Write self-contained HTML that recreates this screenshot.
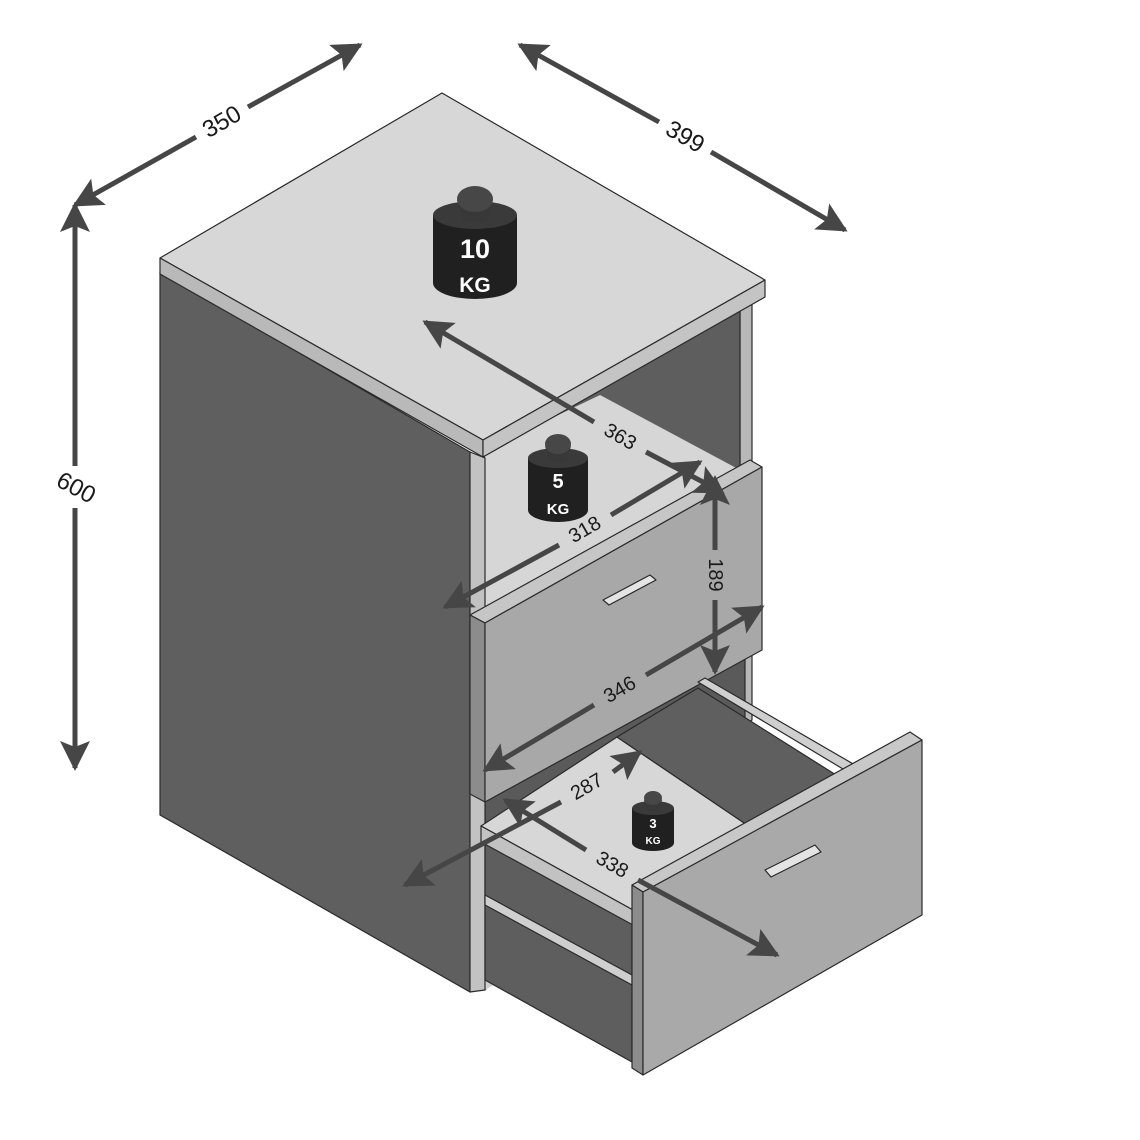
<!DOCTYPE html>
<html><head><style>html,body{margin:0;padding:0;background:#fff}svg{display:block}</style></head>
<body>
<svg width="1140" height="1140" viewBox="0 0 1140 1140" xmlns="http://www.w3.org/2000/svg">
<defs>
<marker id="ah" viewBox="0 0 10 10" refX="9" refY="5" markerWidth="6" markerHeight="6" orient="auto-start-reverse" markerUnits="strokeWidth">
<path d="M0,0 L10,5 L0,10 L2,5 Z" fill="#464646"/></marker>
</defs>
<rect width="1140" height="1140" fill="#fff"/>
<g stroke="#2a2a2a" stroke-width="1.2" stroke-linejoin="round">
<polygon points="740,305 752,298 752,720 740,728" fill="#b8b8b8"/>
<polygon points="485,455 740,308 740,470 485,615" fill="#5e5e5e"/>
<polygon points="485,450 600,395 740,470 485,615" fill="#d6d6d6" stroke="none"/>
<polygon points="485,790 745,650 745,720 485,990" fill="#5a5a5a"/>
<polygon points="485,950 520,970 485,990" fill="#d0d0d0" stroke="none"/>
<polygon points="160,272 470,452 470,992 160,815" fill="#5f5f5f"/>
<polygon points="470,452 485,458 485,990 470,992" fill="#c2c2c2"/>
<polygon points="160,258 442,93 765,280 483,440" fill="#d7d7d7"/>
<polygon points="160,258 483,440 483,457 160,274" fill="#b9b9b9"/>
<polygon points="483,440 765,280 765,297 483,457" fill="#c4c4c4"/>
<polygon points="470,615 750,460 762,467 485,623" fill="#c6c6c6"/>
<polygon points="470,615 485,623 485,802 470,794" fill="#8c8c8c"/>
<polygon points="485,623 762,467 762,650 485,802" fill="#a8a8a8"/>
<polygon points="603,600 650,575 656,580 609,605" fill="#e4e4e4"/>
<polygon points="485,835 632,918 632,1062 485,980" fill="#5e5e5e"/>
<polygon points="485,895 632,975 632,985 485,905" fill="#cfcfcf"/>
<polygon points="481,826 617,737 756,831 633,910" fill="#d7d7d7"/>
<polygon points="617,737 698,688 844,780 756,831" fill="#5f5f5f"/>
<polygon points="698,682 705,678 855,765 848,772" fill="#cfcfcf"/>
<polygon points="481,826 633,910 633,925 481,842" fill="#c2c2c2"/>
<polygon points="632,885 910,732 922,740 643,892" fill="#c8c8c8"/>
<polygon points="632,885 643,892 643,1075 632,1068" fill="#8c8c8c"/>
<polygon points="643,892 922,740 922,915 643,1075" fill="#a9a9a9"/>
<polygon points="765,870 815,845 821,852 771,877" fill="#e4e4e4"/>
</g>
<g fill="#202020">
<ellipse cx="475" cy="283" rx="42" ry="16"/><rect x="433" y="215" width="84" height="68"/><ellipse cx="475" cy="215" rx="42" ry="14" fill="#3a3a3a"/>
<path d="M457,200 L493,200 L486,222 L464,222 Z" fill="#383838"/><ellipse cx="475" cy="199" rx="18" ry="13" fill="#474747"/>
<ellipse cx="558" cy="510" rx="30" ry="12"/><rect x="528" y="458" width="60" height="52"/><ellipse cx="558" cy="458" rx="30" ry="10" fill="#3a3a3a"/>
<path d="M545,446 L571,446 L566,462 L550,462 Z" fill="#383838"/><ellipse cx="558" cy="444" rx="13" ry="10" fill="#474747"/>
<ellipse cx="653" cy="843" rx="21" ry="8"/><rect x="632" y="808" width="42" height="35"/><ellipse cx="653" cy="808" rx="21" ry="7" fill="#3a3a3a"/>
<path d="M644,800 L662,800 L659,811 L647,811 Z" fill="#383838"/><ellipse cx="653" cy="798" rx="9" ry="7" fill="#474747"/>
</g>
<g fill="#fff" font-family="Liberation Sans, sans-serif" font-weight="bold" text-anchor="middle">
<text x="475" y="258" font-size="27">10</text><text x="475" y="292" font-size="21">KG</text>
<text x="558" y="488" font-size="20">5</text><text x="558" y="514" font-size="15">KG</text>
<text x="653" y="828" font-size="13">3</text><text x="653" y="844" font-size="10">KG</text>
</g>
<g stroke="#464646" stroke-width="5" fill="none">
<line x1="196" y1="137" x2="75" y2="205" marker-end="url(#ah)"/><line x1="248" y1="107" x2="360" y2="45" marker-end="url(#ah)"/>
<line x1="659" y1="122" x2="520" y2="45" marker-end="url(#ah)"/><line x1="711" y1="152" x2="845" y2="230" marker-end="url(#ah)"/>
<line x1="75" y1="466" x2="75" y2="205" marker-end="url(#ah)"/><line x1="75" y1="508" x2="75" y2="768" marker-end="url(#ah)"/>
<line x1="594" y1="422" x2="425" y2="322" marker-end="url(#ah)"/><line x1="646" y1="452" x2="722" y2="492" marker-end="url(#ah)"/>
<line x1="559" y1="545" x2="445" y2="607" marker-end="url(#ah)"/><line x1="611" y1="515" x2="700" y2="462" marker-end="url(#ah)"/>
<line x1="715" y1="550" x2="715" y2="478" marker-end="url(#ah)"/><line x1="715" y1="600" x2="715" y2="672" marker-end="url(#ah)"/>
<line x1="594" y1="705" x2="485" y2="770" marker-end="url(#ah)"/><line x1="646" y1="675" x2="762" y2="607" marker-end="url(#ah)"/>
<line x1="561" y1="802" x2="405" y2="885" marker-end="url(#ah)"/><line x1="613" y1="772" x2="640" y2="752" marker-end="url(#ah)"/>
<line x1="586" y1="850" x2="505" y2="800" marker-end="url(#ah)"/><line x1="638" y1="880" x2="777" y2="955" marker-end="url(#ah)"/>
</g>
<g fill="#1a1a1a" font-family="Liberation Sans, sans-serif" font-size="24" text-anchor="middle" dominant-baseline="central">
<text transform="translate(222,122) rotate(-30)">350</text>
<text transform="translate(685,137) rotate(30)">399</text>
<text transform="translate(76,488) rotate(28)">600</text>
<text font-size="20" transform="translate(620,437) rotate(30)">363</text>
<text font-size="20" transform="translate(585,530) rotate(-30)">318</text>
<text font-size="20" transform="translate(715,575) rotate(90)">189</text>
<text font-size="20" transform="translate(620,690) rotate(-30)">346</text>
<text font-size="20" transform="translate(587,787) rotate(-30)">287</text>
<text font-size="20" transform="translate(612,865) rotate(30)">338</text>
</g>
</svg>
</body></html>
